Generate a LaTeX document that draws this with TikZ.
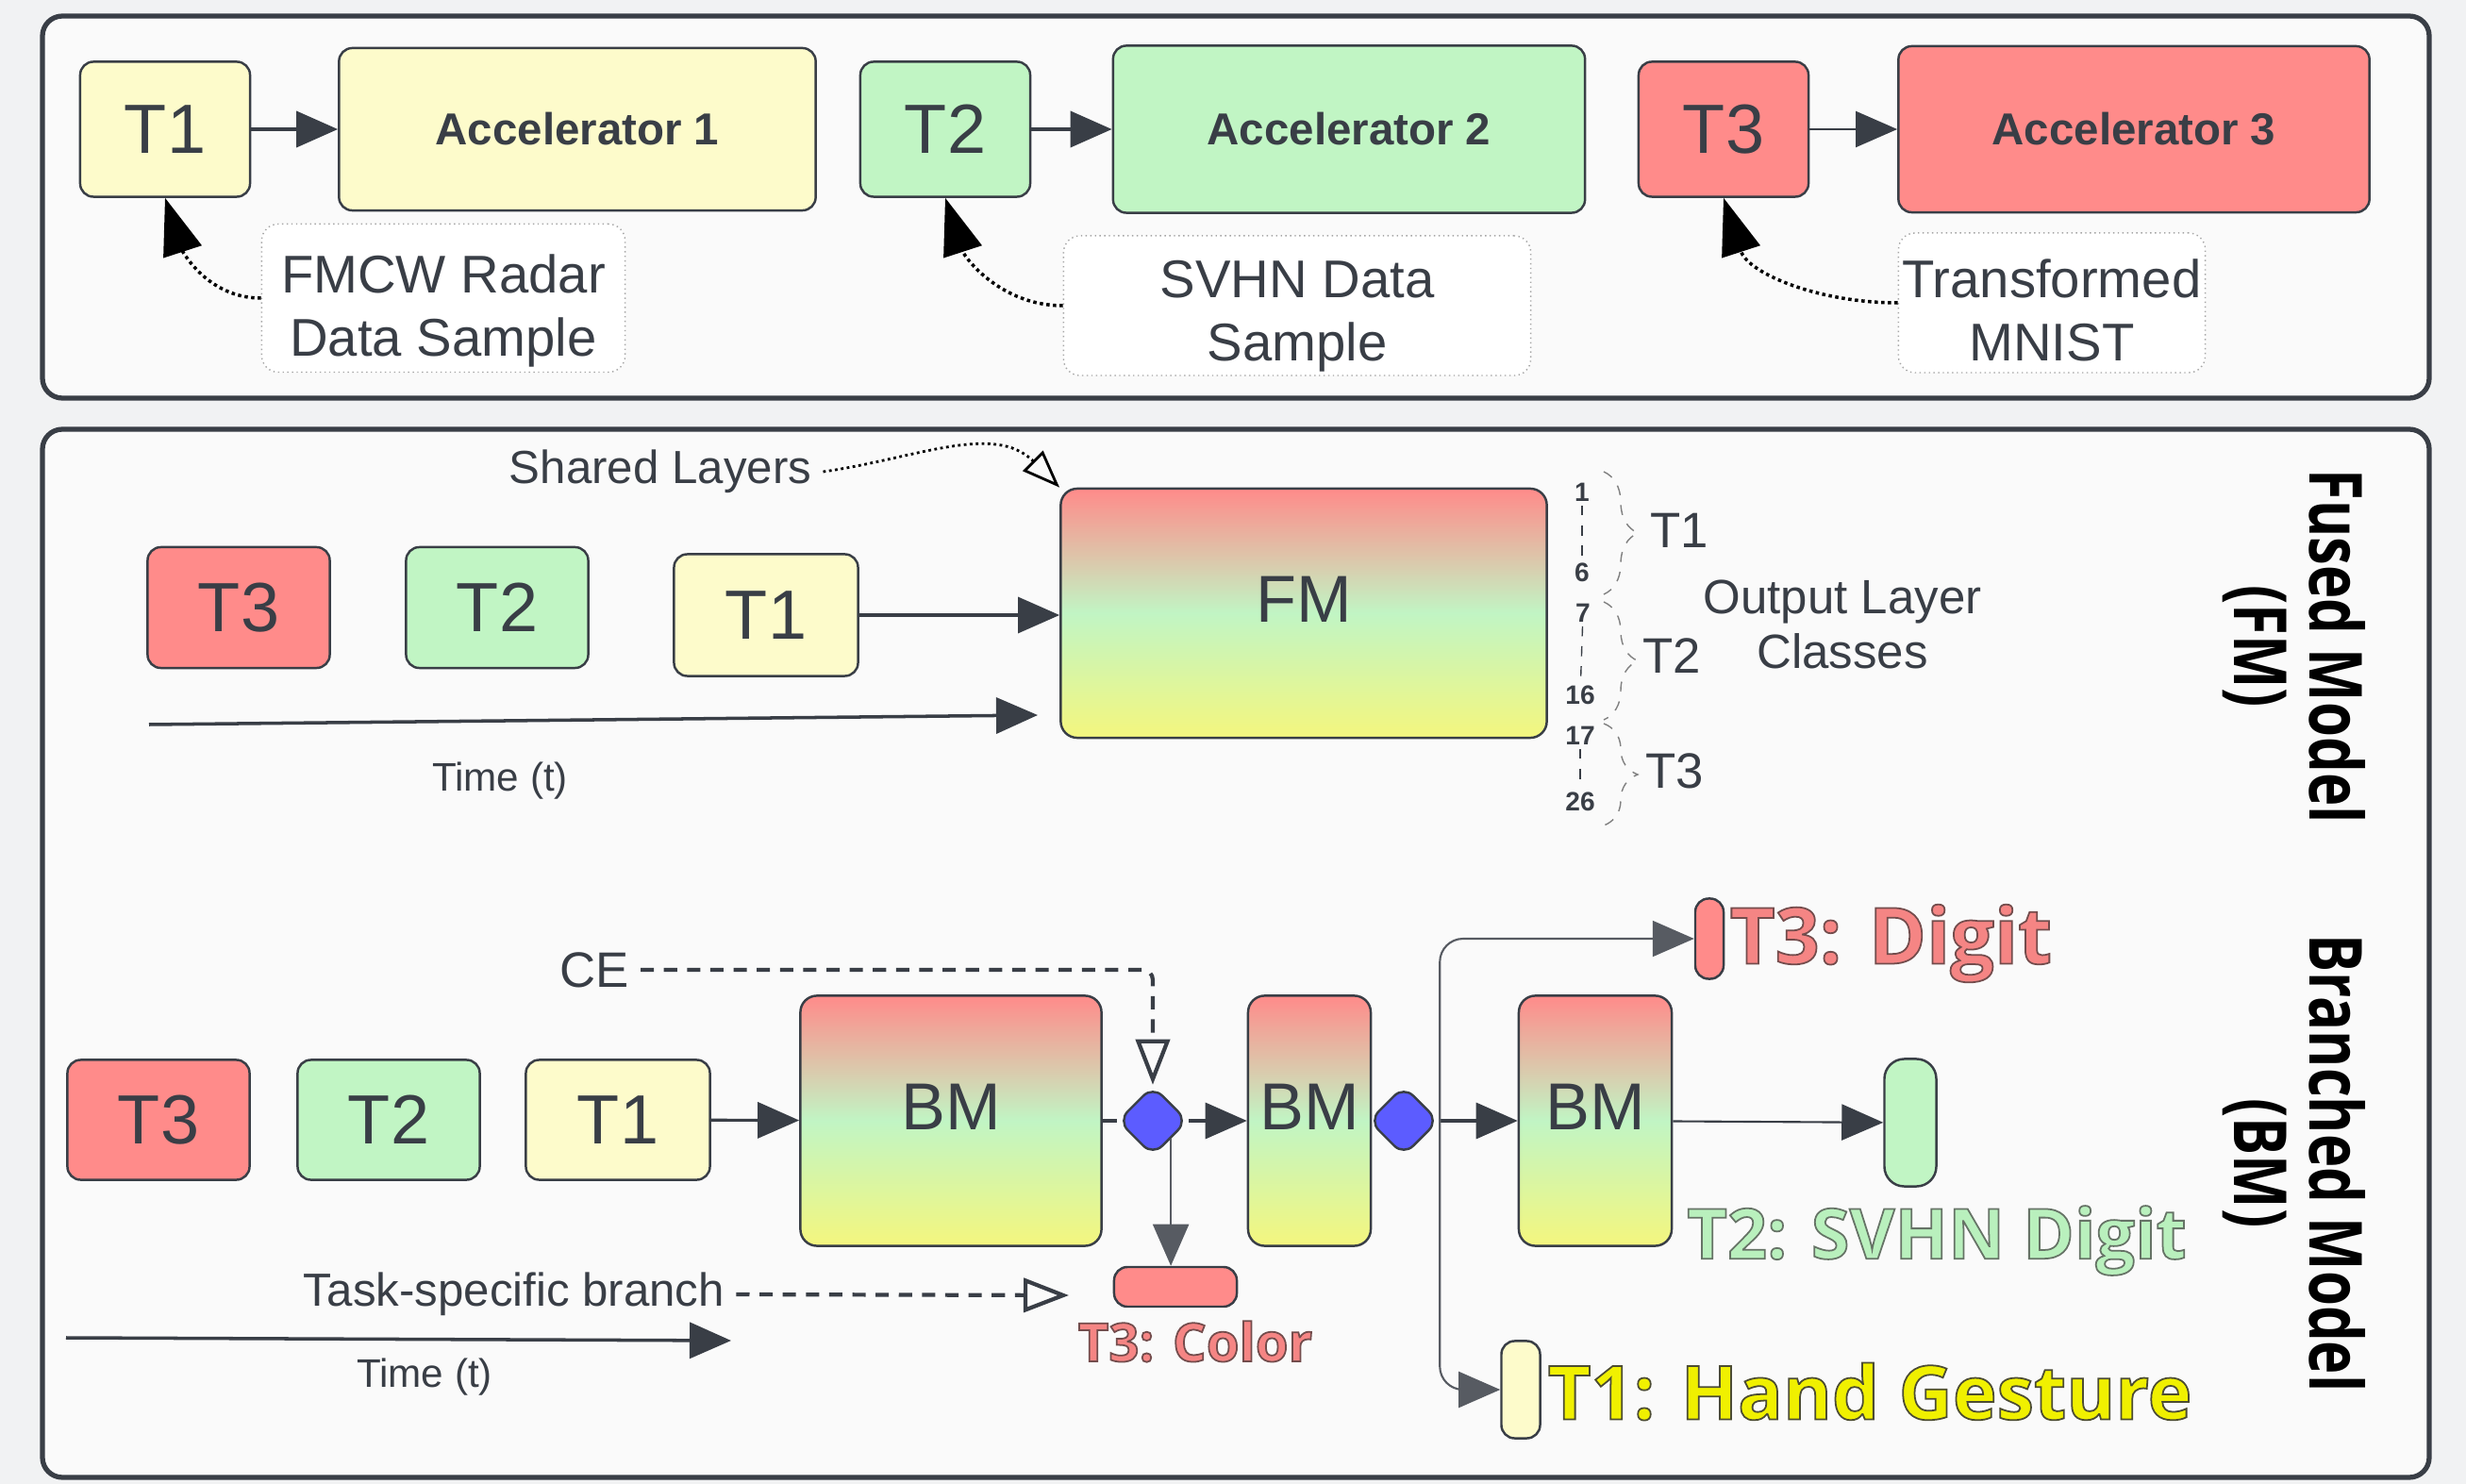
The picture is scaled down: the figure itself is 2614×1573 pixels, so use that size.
\documentclass[tikz,border=0pt]{standalone}
\usepackage{fontspec}
\setmainfont{Liberation Sans}
\newfontfamily\labelfont{Open Sans}
\usetikzlibrary{positioning, arrows.meta, shapes.geometric, decorations.pathreplacing}

\definecolor{ink}{HTML}{393E46}
\definecolor{pagebg}{HTML}{F1F2F3}
\definecolor{panelbg}{HTML}{FAFAFA}
\definecolor{taskyellow}{HTML}{FDFBCB}
\definecolor{taskgreen}{HTML}{C1F5C4}
\definecolor{taskred}{HTML}{FF8B8A}
\definecolor{gradyellow}{HTML}{F4F67E}
\definecolor{jointblue}{HTML}{5C5CFF}
\definecolor{lblyellow}{HTML}{F0F000}
\definecolor{lblgreen}{HTML}{B9F0BD}
\definecolor{lblred}{HTML}{F58584}

% red top, green middle, yellow bottom
\pgfdeclareverticalshading{taskmix}{100bp}{color(0bp)=(gradyellow); color(25bp)=(gradyellow); color(50bp)=(taskgreen); color(75bp)=(taskred); color(100bp)=(taskred)}

% coloured text with a dark outline
\newcommand\strokedtext[3]{\textcolor{#1}{\special{pdf:literal direct 2 Tr #2 RG 0.5 w}#3\special{pdf:literal direct 0 Tr}}}

\begin{document}
\begin{tikzpicture}[x=0.01cm, y=-0.01cm,
    % boxes
    tbox/.style={draw=ink, line width=0.7pt, rounded corners=4pt, minimum width=1.8cm, minimum height=1.43cm, font=\fontsize{21}{24}\selectfont, text=ink},
    accbox/.style={tbox, minimum height=1.72cm, font=\bfseries\fontsize{13.5}{16}\selectfont},
    sample/.style={draw=gray!70, densely dotted, rounded corners=5pt, fill=white, align=center, font=\fontsize{16}{19}\selectfont, text=ink, inner sep=0pt},
    model/.style={draw=ink, line width=0.7pt, rounded corners=5pt, shade, shading=taskmix, minimum height=2.65cm, text depth=0.3cm, font=\fontsize{20}{24}\selectfont, text=ink},
    joint/.style={diamond, draw=ink, line width=0.7pt, fill=jointblue, rounded corners=4pt, inner sep=0pt, minimum width=0.74cm, minimum height=0.74cm},
    pill/.style={draw=ink, line width=0.7pt, rounded corners=4pt, inner sep=0pt},
    note/.style={font=\fontsize{14}{16.5}\selectfont, text=ink, align=center},
    idx/.style={font=\bfseries\fontsize{8}{9}\selectfont, text=ink, inner sep=1pt},
    side/.style={font=\labelfont\bfseries\fontsize{17}{17.5}\selectfont, align=center, rotate=-90, yscale=1.3},
    result/.style={font=\labelfont\bfseries\fontsize{#1}{#1}\selectfont, inner sep=0pt},
    % connectors
    arr/.style={draw=ink, line width=1.1pt, -{Triangle[length=0.44cm, width=0.38cm]}},
    thinarr/.style={arr, line width=0.6pt},
    branch/.style={thinarr, draw=ink!85, rounded corners=7pt},
    hintarr/.style={draw=black, line width=1pt, densely dotted, -{Triangle[length=0.6cm, width=0.42cm]}},
    dasharr/.style={draw=ink, line width=1.2pt, dash pattern=on 4pt off 3pt, -{Triangle[open, length=0.48cm, width=0.36cm]}},
    classbrace/.style={draw=gray, thin, dashed, decorate, decoration={brace, amplitude=0.36cm}},
  ]

  % page and panels
  \fill[pagebg] (0,0) rectangle (2614,1573);
  \draw[ink, line width=1.5pt, fill=panelbg, rounded corners=6pt] (45,17) rectangle (2575,422);
  \draw[ink, line width=1.5pt, fill=panelbg, rounded corners=6pt] (45,455) rectangle (2575,1566);

  % ---- one accelerator per task ----
  \node[tbox, fill=taskyellow] (t1) at (175,137) {T1};
  \node[accbox, fill=taskyellow, minimum width=5.05cm] (acc1) at (612,137) {Accelerator 1};
  \node[tbox, fill=taskgreen] (t2) at (1002,137) {T2};
  \node[accbox, fill=taskgreen, minimum width=5.0cm, minimum height=1.77cm] (acc2) at (1430,137) {Accelerator 2};
  \node[tbox, fill=taskred] (t3) at (1827,137) {T3};
  \node[accbox, fill=taskred, minimum width=4.99cm, minimum height=1.76cm] (acc3) at (2262,137) {Accelerator 3};

  \node[sample, minimum width=3.85cm, minimum height=1.57cm] (s1) at (470,316) {\rule{0pt}{1.2em}FMCW Radar\\Data Sample};
  \node[sample, minimum width=4.95cm, minimum height=1.48cm] (s2) at (1375,324) {\rule{0pt}{1.1em}SVHN Data\\Sample};
  \node[sample, minimum width=3.25cm, minimum height=1.48cm] (s3) at (2175,321) {\rule{0pt}{1em}Transformed\\MNIST};

  \draw[arr] (t1) -- (acc1);
  \draw[arr] (t2) -- (acc2);
  \draw[thinarr] (t3) -- (acc3);
  \draw[hintarr] (s1.west) to[out=180, in=-72] (t1.south);
  \draw[hintarr] (s2.west) to[out=180, in=-72] (t2.south);
  \draw[hintarr] (s3.west) to[out=180, in=-72] (t3.south);

  % ---- fused model ----
  \node[note] (shared) at (700,500) {Shared Layers};
  \node[tbox, fill=taskred, minimum width=1.93cm, minimum height=1.28cm] (t3f) at (253,644) {T3};
  \node[tbox, fill=taskgreen, minimum width=1.93cm, minimum height=1.28cm] (t2f) at (527,644) {T2};
  \node[tbox, fill=taskyellow, minimum width=1.95cm, minimum height=1.29cm] (t1f) at (812,652) {T1};
  \node[model, minimum width=5.15cm, minimum height=2.64cm] (fm) at (1382,650) {FM};

  \draw[thinarr, line width=0.9pt] (t1f.east) -- (t1f.east -| fm.west);
  \draw[draw=black, line width=0.8pt, densely dotted, -{Triangle[open, length=0.4cm, width=0.3cm]}] (shared.east) to[out=8, in=135] (fm.north west);

  \coordinate (tf0) at (158,768);
  \coordinate (tf1) at (1100,758);
  \draw[thinarr, line width=1pt] (tf0) -- (tf1);
  \node[note, font=\fontsize{12}{14}\selectfont] (timef) at (530,828) {Time (t)};

  % output classes
  \node[idx] (c1) at (1677,522) {1};
  \node[idx] (c6) at (1677,607) {6};
  \node[idx] (c7) at (1678,650) {7};
  \node[idx] (c16) at (1675,737) {16};
  \node[idx] (c17) at (1675,780) {17};
  \node[idx] (c26) at (1675,850) {26};
  \draw[ink, thin, dashed] (c1) -- (c6);
  \draw[ink, thin, dashed] (c7) -- (c16);
  \draw[ink, thin, dashed] (c17) -- (c26);

  \coordinate (b1a) at (1700,500); \coordinate (b1b) at (1700,630);
  \coordinate (b2a) at (1700,638); \coordinate (b2b) at (1700,763);
  \coordinate (b3a) at (1700,767); \coordinate (b3b) at (1700,875);
  \draw[classbrace] (b1a) -- (b1b);
  \draw[classbrace] (b2a) -- (b2b);
  \draw[classbrace] (b3a) -- (b3b);
  \node[note, font=\fontsize{15}{17}\selectfont] (g1) at (1780,562) {T1};
  \node[note, font=\fontsize{15}{17}\selectfont] (g2) at (1772,695) {T2};
  \node[note, font=\fontsize{15}{17}\selectfont] (g3) at (1775,817) {T3};
  \node[note, font=\fontsize{14.5}{16.5}\selectfont] (outcls) at (1953,662) {Output Layer\\Classes};

  \node[side] (fmname) at (2432,685) {Fused Model\\(FM)};

  % ---- branched model ----
  \node[note, font=\fontsize{15}{17}\selectfont] (ce) at (630,1028) {CE};
  \node[tbox, fill=taskred, minimum width=1.93cm, minimum height=1.27cm] (t3b) at (168,1187) {T3};
  \node[tbox, fill=taskgreen, minimum width=1.93cm, minimum height=1.27cm] (t2b) at (412,1187) {T2};
  \node[tbox, fill=taskyellow, minimum width=1.95cm, minimum height=1.27cm] (t1b) at (655,1187) {T1};

  \node[model, minimum width=3.19cm] (bm1) at (1008,1188) {BM};
  \node[joint] (d1) at (1222,1188) {};
  \node[model, minimum width=1.30cm] (bm2) at (1388,1188) {BM};
  \node[joint] (d2) at (1488,1188) {};
  \node[model, minimum width=1.62cm] (bm3) at (1691,1188) {BM};

  \node[pill, fill=taskred, minimum width=1.30cm, minimum height=0.42cm] (p3c) at (1246,1364) {};
  \node[pill, fill=taskred, minimum width=0.30cm, minimum height=0.85cm] (p3d) at (1812,995) {};
  \node[pill, fill=taskgreen, minimum width=0.55cm, minimum height=1.35cm, rounded corners=6pt] (p2) at (2025,1190) {};
  \node[pill, fill=taskyellow, minimum width=0.41cm, minimum height=1.03cm] (p1) at (1612,1473) {};

  \node[result=16] (lc) at (1267,1422) {\strokedtext{lblred}{0.45 0.3 0.3}{T3: Color}};
  \node[result=23.5, anchor=west] (ld) at (1833,1000) {\strokedtext{lblred}{0.45 0.3 0.3}{T3: Digit}};
  \node[result=21] (ls) at (2053,1315) {\strokedtext{lblgreen}{0.4 0.45 0.4}{T2: SVHN Digit}};
  \node[result=22.5, anchor=west] (lh) at (1640,1475) {\strokedtext{lblyellow}{0.3 0.3 0.2}{T1: Hand Gesture}};

  \draw[thinarr, line width=0.9pt] (t1b) -- (bm1);
  \draw[ink, line width=0.9pt] (bm1) -- (d1);
  \draw[thinarr, line width=0.9pt] (d1) -- (bm2);
  \draw[thinarr, line width=0.9pt] (d2) -- (bm3);
  \draw[thinarr, line width=0.6pt, draw=ink!85] (d1.south east) -- (d1.south east |- p3c.north);
  \draw[branch] (d2.east) |- (p3d.west);
  \draw[branch] (d2.east) |- (p1.west);
  \draw[thinarr] (bm3) -- (p2);
  \draw[dasharr, rounded corners=3pt] (ce.east) -| (d1.north);

  \node[note] (tsb) at (545,1372) {Task-specific branch};
  \coordinate (tsbend) at (1133,1373);
  \draw[dasharr] (tsb.east) -- (tsbend);

  \coordinate (tb0) at (70,1418);
  \coordinate (tb1) at (775,1421);
  \draw[thinarr, line width=1pt] (tb0) -- (tb1);
  \node[note, font=\fontsize{12}{14}\selectfont] (timeb) at (450,1460) {Time (t)};

  \node[side] (bmname) at (2432,1233) {Branched Model\\(BM)};
\end{tikzpicture}
\end{document}
